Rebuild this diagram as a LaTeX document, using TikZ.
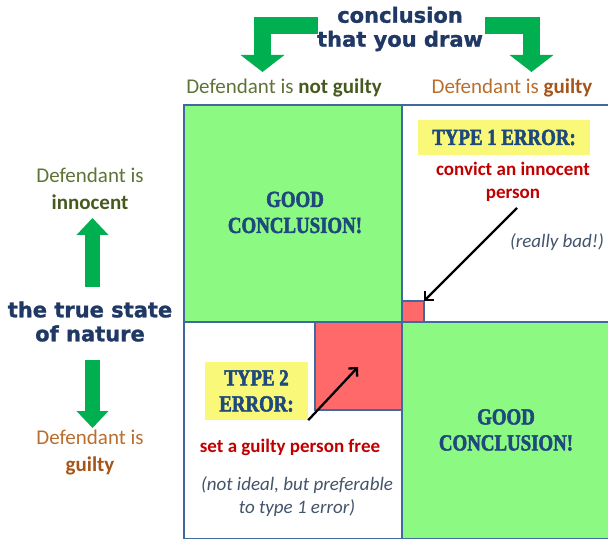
\documentclass[tikz,border=0pt]{standalone}
\usepackage{fontspec}
\setmainfont{Carlito}
\newfontfamily\heavyfont{DejaVu Sans}[FakeBold=1.2]
\newfontfamily\stencilfont{Liberation Serif}[FakeStretch=0.82,FakeBold=2.2]
\usetikzlibrary{arrows.meta}

\definecolor{cellgreen}{RGB}{140,250,130}
\definecolor{cellred}{RGB}{255,105,105}
\definecolor{gridblue}{RGB}{65,105,160}
\definecolor{arrowgreen}{RGB}{0,176,80}
\definecolor{navy}{RGB}{31,56,100}
\definecolor{stencilblue}{RGB}{31,73,125}
\definecolor{labelyellow}{RGB}{250,248,120}
\definecolor{errred}{RGB}{192,0,0}
\definecolor{notegray}{RGB}{68,84,106}
\definecolor{olive}{RGB}{95,115,55}
\definecolor{olivedark}{RGB}{70,90,30}
\definecolor{brownish}{RGB}{185,110,45}
\definecolor{browndark}{RGB}{165,85,25}

\tikzset{
  cell/.style={draw=gridblue, line width=1.6pt, anchor=north west,
    inner sep=0pt, outer sep=0pt},
  headline/.style={font=\heavyfont\bfseries\fontsize{21}{24}\selectfont,
    text=navy, align=center, inner sep=0pt},
  sidelabel/.style={font=\fontsize{21}{27}\selectfont, align=center, inner sep=0pt},
  stenciltext/.style={font=\stencilfont\bfseries\fontsize{23}{26}\selectfont,
    text=stencilblue, align=center, inner sep=0pt},
  yellowbox/.style={stenciltext, fill=labelyellow},
  errtext/.style={font=\bfseries\fontsize{19}{23}\selectfont, text=errred,
    align=center, inner sep=0pt},
  notetext/.style={font=\itshape\fontsize{19}{23}\selectfont, text=notegray,
    align=center, inner sep=0pt},
  bigelbow/.style={draw=arrowgreen, line width=17pt, line join=miter,
    -{Triangle[length=17pt,width=43pt]}},
  bigstraight/.style={draw=arrowgreen, line width=15pt,
    -{Triangle[length=17pt,width=31pt]}},
  pointer/.style={draw=black, line width=2.3pt,
    -{Straight Barb[length=6pt,width=12pt]}}
}

\begin{document}
\begin{tikzpicture}[x=1pt,y=-1pt]
\useasboundingbox (0,0) rectangle (608,540);

% the four cells of the decision grid
\node[cell, fill=cellgreen, minimum width=218pt, minimum height=217pt] (tl) at (184,105) {};
\node[cell, fill=white, minimum width=210pt, minimum height=217pt] (tr) at (402,105) {};
\node[cell, fill=white, minimum width=218pt, minimum height=216.5pt] (bl) at (184,322) {};
\node[cell, fill=cellgreen, minimum width=210pt, minimum height=216.5pt] (br) at (402,322) {};

% red squares marking the two kinds of error
\node[cell, fill=cellred, minimum width=22pt, minimum height=21pt] (r1) at (402,301) {};
\node[cell, fill=cellred, minimum width=87pt, minimum height=88pt] (r2) at (315,322) {};

% column heading with elbow arrows
\node[headline] (concl) at (400,29) {conclusion\\that you draw};
\coordinate (elbowL) at (318,25.5);
\coordinate (tipL) at (262.5,72);
\coordinate (elbowR) at (485,25.5);
\coordinate (tipR) at (531.5,72);
\draw[bigelbow] (elbowL) -| (tipL);
\draw[bigelbow] (elbowR) -| (tipR);

\node[sidelabel, text=olive] (colL) at (284,88)
  {Defendant is \textbf{\color{olivedark}not guilty}};
\node[sidelabel, text=brownish] (colR) at (512,88)
  {Defendant is \textbf{\color{browndark}guilty}};

% row heading with vertical arrows
\node[headline] (nature) at (90,321.5) {the true state\\of nature};
\node[sidelabel, text=olive] (rowT) at (90,189)
  {Defendant is\\\textbf{\color{olivedark}innocent}};
\node[sidelabel, text=brownish] (rowB) at (90,452)
  {Defendant is\\\textbf{\color{browndark}guilty}};
\coordinate (upS) at (92.5,287);
\coordinate (upT) at (92.5,218);
\coordinate (dnS) at (92.5,360);
\coordinate (dnT) at (92.5,428);
\draw[bigstraight] (upS) -- (upT);
\draw[bigstraight] (dnS) -- (dnT);

% correct decisions
\node[stenciltext] (good1) at (295,212.5) {GOOD\\CONCLUSION!};
\node[stenciltext] (good2) at (506,430) {GOOD\\CONCLUSION!};

% type 1 error
\node[yellowbox, minimum width=172pt, minimum height=35pt] (t1) at (504,137.5) {TYPE 1 ERROR:};
\node[errtext] (t1txt) at (513,181.5) {convict an innocent\\person};
\node[notetext] (t1note) at (557,242) {(really bad!)};
\coordinate (t1from) at (517,208);
\draw[pointer] (t1from) -- (r1.north east);

% type 2 error
\node[yellowbox, minimum width=103pt, minimum height=58pt] (t2) at (256.5,391) {TYPE 2\\ERROR:};
\node[errtext] (t2txt) at (290,447) {set a guilty person free};
\node[notetext] (t2note) at (297,496.5) {(not ideal, but preferable\\to type 1 error)};
\coordinate (t2to) at (358,367);
\draw[pointer] (t2.south east) -- (t2to);
\end{tikzpicture}
\end{document}
